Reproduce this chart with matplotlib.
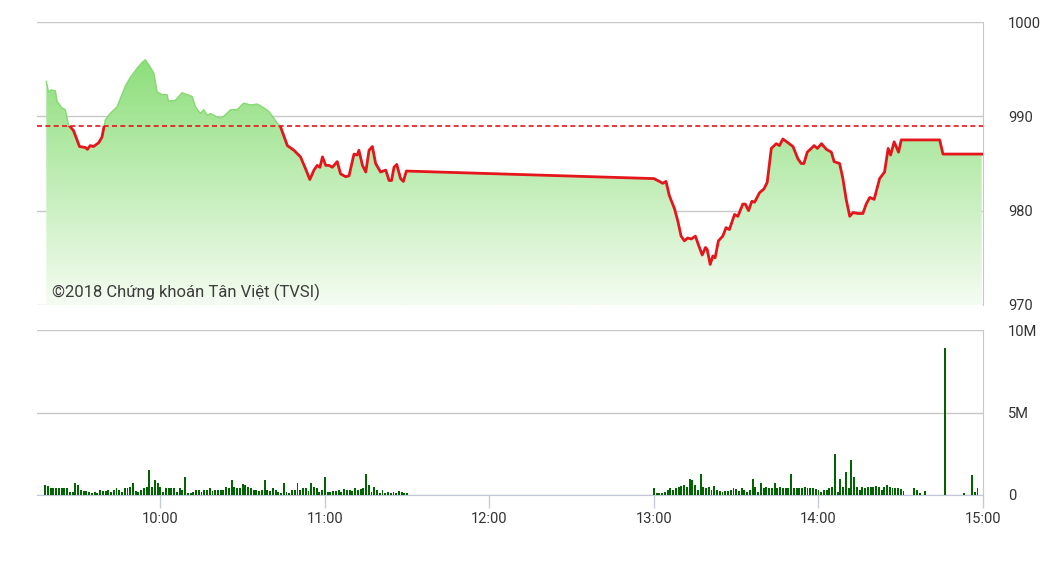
"""
VN-Index intraday chart: price with reference line, volume bars below
"""
import numpy as np
import matplotlib
matplotlib.use("Agg")
import matplotlib.pyplot as plt
from matplotlib.colors import LinearSegmentedColormap

plt.rcParams["font.family"] = ["Roboto", "DejaVu Sans"]

# price, minutes after 09:00
price_time = [
    18.4, 19.2, 20.1, 21.7, 22.3, 24.1, 25.3, 26.5, 28.3, 30.5, 32.6, 33.4, 34.4, 35.6,
    37.5, 38.7, 39.9, 41.7, 44.2, 47.2, 49.0, 51.5, 53.3, 54.5, 55.7, 57.6, 58.8, 60.6,
    62.4, 63.0, 65.5, 67.9, 69.8, 71.6, 72.8, 74.6, 75.8, 77.1, 78.3, 80.1, 81.9, 83.1,
    85.6, 88.0, 90.4, 92.9, 95.3, 97.7, 99.6, 102.6, 103.8, 106.3, 108.7, 111.1, 113.0,
    114.5, 116.0, 117.2, 118.2, 119.1, 120.3, 121.5, 122.7, 124.5, 125.7, 127.6, 128.8,
    130.6, 131.8, 132.4, 133.7, 134.9, 136.1, 137.3, 138.5, 140.3, 142.2, 143.4, 144.3,
    145.2, 146.2, 147.6, 148.6, 149.7,
    240.0, 242.0, 243.2, 244.4, 245.6, 247.5, 248.7, 249.9, 251.1, 252.3, 253.6, 255.1,
    256.2, 257.6, 258.8, 259.4, 260.5, 261.5, 262.3, 263.5, 265.1, 266.3, 267.5, 269.4,
    270.6, 272.4, 273.3, 274.5, 275.7, 276.7, 278.5, 280.1, 281.3, 282.8, 284.6, 285.8,
    287.0, 288.9, 290.7, 292.5, 293.7, 294.7, 295.9, 297.4, 298.4, 299.6, 301.1, 302.9,
    304.7, 305.7, 307.7, 308.9, 310.1, 311.4, 312.6, 314.4, 316.2, 317.4, 318.7, 320.3,
    322.3, 324.1, 325.4, 326.3, 327.6, 329.2, 330.2, 344.2, 345.4, 359.5,
]
price = [
    993.7, 992.6, 992.8, 992.7, 991.6, 990.9, 990.7, 989.1, 988.5, 986.8, 986.7, 986.5, 986.9, 986.8,
    987.2, 987.8, 989.6, 990.3, 991.0, 993.2, 994.1, 995.1, 995.7, 996.0, 995.5, 994.6, 992.6, 992.3,
    992.3, 991.6, 991.7, 992.5, 992.3, 992.1, 991.0, 990.3, 990.7, 990.1, 990.3, 990.0, 989.8, 990.0,
    990.7, 990.7, 991.4, 991.2, 991.3, 990.9, 990.5, 989.3, 988.9, 986.9, 986.4, 985.7, 984.4,
    983.3, 984.3, 984.8, 984.6, 985.7, 984.8, 984.8, 984.6, 985.2, 983.9, 983.6, 983.7,
    986.0, 985.9, 986.4, 984.8, 984.1, 986.4, 986.8, 985.0, 984.1, 984.3, 983.2, 983.2,
    984.6, 984.9, 983.4, 983.1, 984.2,
    983.4, 983.1, 982.9, 983.1, 981.6, 980.2, 978.9, 977.3, 976.8, 977.1, 977.0, 977.3,
    976.4, 975.3, 976.1, 975.9, 974.3, 975.2, 975.0, 976.8, 977.3, 978.2, 978.0, 979.6,
    979.4, 980.7, 980.7, 980.0, 981.0, 980.9, 981.9, 982.3, 983.0, 986.6, 987.1, 986.9,
    987.6, 987.2, 986.8, 985.5, 985.0, 985.0, 986.2, 986.6, 986.9, 986.6, 987.1, 986.5,
    986.2, 985.2, 985.0, 983.4, 981.2, 979.4, 979.8, 979.7, 979.7, 980.7, 981.4, 981.2,
    983.4, 984.1, 986.6, 985.9, 987.3, 986.2, 987.5, 987.5, 986.0, 986.0,
]
ref_price = 988.93

# volume per minute (millions of shares)
vol_am_start = 18    # 09:18
vol_am = [
    0.6, 0.56, 0.44, 0.44, 0.44, 0.44, 0.44, 0.44, 0.44, 0.2, 0.2, 0.7, 0.6, 0.3, 0.24,
    0.24, 0.16, 0.1, 0.2, 0.1, 0.3, 0.24, 0.24, 0.3, 0.2, 0.3, 0.4, 0.3, 0.2, 0.4,
    0.44, 0.5, 0.7, 0.24, 0.2, 0.3, 0.4, 0.5, 1.5, 0.5, 0.9, 0.7, 0.5, 0.2, 0.4,
    0.4, 0.44, 0.44, 0.2, 0.4, 0.3, 1.1, 0.1, 0.1, 0.2, 0.3, 0.3, 0.2, 0.3, 0.3,
    0.4, 0.24, 0.3, 0.3, 0.3, 0.3, 0.5, 0.4, 0.9, 0.5, 0.44, 0.4, 0.64, 0.6, 0.5,
    0.44, 0.3, 0.3, 0.24, 0.3, 0.9, 0.3, 0.24, 0.4, 0.3, 0.2, 0.1, 0.7, 0.2, 0.1,
    0.3, 0.3, 0.7, 0.3, 0.4, 0.44, 0.24, 0.7, 0.5, 0.4, 0.2, 0.3, 1.1, 0.2, 0.16,
    0.24, 0.24, 0.3, 0.2, 0.36, 0.3, 0.3, 0.24, 0.4, 0.3, 0.36, 0.4, 1.25, 0.6, 0.2,
    0.5, 0.3, 0.1, 0.3, 0.1, 0.2, 0.1, 0.2, 0.1, 0.25, 0.2, 0.1, 0.1,
]
vol_pm_start = 240   # 13:00
vol_pm = [
    0.4, 0.1, 0.1, 0.1, 0.2, 0.3, 0.4, 0.3, 0.45, 0.5, 0.56, 0.6, 0.5, 1.0, 0.9,
    0.6, 0.3, 1.3, 0.5, 0.44, 0.5, 0.3, 0.56, 0.3, 0.24, 0.2, 0.24, 0.24, 0.3, 0.4,
    0.36, 0.24, 0.4, 0.3, 0.2, 0.3, 1.0, 0.5, 0.2, 0.7, 0.4, 0.5, 0.44, 0.4, 0.7,
    0.4, 0.5, 0.4, 0.4, 0.44, 1.3, 0.44, 0.4, 0.4, 0.44, 0.5, 0.4, 0.4, 0.4, 0.36,
    0.3, 0.2, 0.3, 0.3, 0.4, 0.5, 2.5, 0.2, 1.0, 0.5, 1.4, 0.4, 2.1, 1.1, 0.5,
    0.3, 0.5, 0.4, 0.5, 0.5, 0.5, 0.56, 0.5, 0.3, 0.5, 0.6, 0.5, 0.4, 0.4, 0.4,
    0.36, 0.25, 0, 0, 0, 0.4, 0.3, 0.1, 0, 0.25, 0, 0, 0, 0, 0,
    0, 8.9, 0, 0, 0, 0, 0, 0, 0.1, 0, 0, 1.2, 0.2, 0.4,
]

hour_ticks = [60, 120, 180, 240, 300, 360]
hour_labels = ["10:00", "11:00", "12:00", "13:00", "14:00", "15:00"]
price_ticks = [970, 980, 990, 1000]
vol_ticks = [0, 5, 10]
vol_labels = ["0", "5M", "10M"]
note = "©2018 Chứng khoán Tân Việt (TVSI)"

GRID = "#c8c8c8"
RED = "#e4151b"
TEXT = "#333333"
X0, X1 = 15, 360

W, H = 1045, 587
fig = plt.figure(figsize=(W / 100, H / 100), dpi=100)
ax = fig.add_axes([37 / W, 1 - 305 / H, 946 / W, 283 / H])
axv = fig.add_axes([37 / W, 1 - 495 / H, 946 / W, 165 / H])

# --- price panel
t = np.array(price_time)
p = np.array(price)
grad = LinearSegmentedColormap.from_list("g", ["#f5fcf2", "#7dda69"])
img = ax.imshow(np.linspace(0, 1, 256).reshape(-1, 1), cmap=grad, origin="lower",
                extent=[X0, X1, 970, 1000], aspect="auto", zorder=1)
area = ax.fill_between(t, p, 970, facecolor="none", edgecolor="none")
img.set_clip_path(area.get_paths()[0], transform=ax.transData)

# green edge above the reference, red line below it
green_line, = ax.plot(t, p, color="#86d872", lw=1.0, zorder=3)
red_line, = ax.plot(t, p, color=RED, lw=2.0, zorder=4, solid_joinstyle="round")
above = plt.Rectangle((X0, ref_price), X1 - X0, 40, transform=ax.transData)
below = plt.Rectangle((X0, 960), X1 - X0, ref_price - 960, transform=ax.transData)
green_line.set_clip_path(above)
red_line.set_clip_path(below)
ax.axhline(ref_price, color=RED, lw=1.2, dashes=(3, 2), zorder=5)

ax.set_xlim(X0, X1)
ax.set_ylim(970, 1000)
ax.set_yticks(price_ticks)
ax.set_xticks([])
ax.grid(axis="y", color=GRID, lw=1)
ax.set_axisbelow(True)
for s in ["left", "top", "bottom"]:
    ax.spines[s].set_visible(False)
ax.spines["right"].set_color(GRID)
ax.yaxis.tick_right()
ax.tick_params(axis="y", length=0, pad=18, labelsize=10.5, labelcolor=TEXT)
fig.text(52 / W, 1 - 292 / H, note, fontsize=12, color="#3c3c3c",
         va="center", ha="left")

# --- volume panel
am_t = vol_am_start + np.arange(len(vol_am))
pm_t = vol_pm_start + np.arange(len(vol_pm))
axv.bar(am_t, vol_am, width=0.7, color="#006400", zorder=3)
axv.bar(pm_t, vol_pm, width=0.7, color="#006400", zorder=3)
axv.set_xlim(X0, X1)
axv.set_ylim(0, 10)
axv.set_yticks(vol_ticks, vol_labels)
axv.set_xticks(hour_ticks, hour_labels)
axv.grid(axis="y", color=GRID, lw=1)
axv.set_axisbelow(True)
for s in ["left", "top"]:
    axv.spines[s].set_visible(False)
axv.spines["right"].set_color(GRID)
axv.spines["bottom"].set_color("#bfc8d8")
axv.yaxis.tick_right()
axv.tick_params(axis="y", length=0, pad=18, labelsize=10.5, labelcolor=TEXT)
axv.tick_params(axis="x", length=9, width=1, color="#c4ccdb", pad=3,
                labelsize=10.5, labelcolor=TEXT)

fig.savefig("out.png", dpi=100)
